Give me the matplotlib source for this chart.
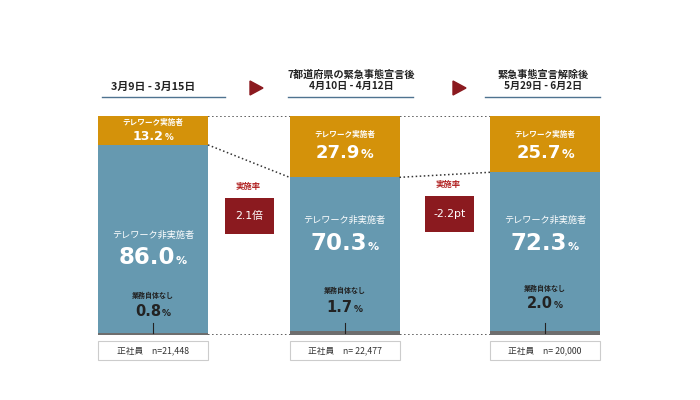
import matplotlib.pyplot as plt
from matplotlib.patches import Rectangle, Polygon
from matplotlib.offsetbox import TextArea, HPacker, AnnotationBbox

plt.rcParams['font.family'] = ['Noto Sans CJK JP', 'DejaVu Sans']
NUMFONT = ['DejaVu Sans', 'Noto Sans CJK JP']

# data
periods = ["3月9日 - 3月15日", "4月10日 - 4月12日", "5月29日 - 6月2日"]
headers = ["", "7都道府県の緊急事態宣言後", "緊急事態宣言解除後"]
telework = [13.2, 27.9, 25.7]
non_telework = [86.0, 70.3, 72.3]
no_work = [0.8, 1.7, 2.0]
sample_n = ["n=21,448", "n= 22,477", "n= 20,000"]
changes = ["2.1倍", "-2.2pt"]

ORANGE = '#D4920A'
BLUE = '#6699B0'
GREY = '#6E6E6E'
RED = '#8B1A1F'
DARK = '#222222'

fig = plt.figure(figsize=(7, 4), dpi=100)

# bar axes: 0% at y=335px, 100% at y=116px
bx = fig.add_axes([0, 65 / 400, 1, 219 / 400])
bx.set_xlim(0, 700)
bx.set_ylim(0, 100)
bx.axis('off')

# overlay axes in pixel units for text / decorations (drawn on top)
ax = fig.add_axes([0, 0, 1, 1])
ax.set_zorder(5)
ax.set_xlim(0, 700)
ax.set_ylim(400, 0)
ax.axis('off')

xs = [153, 344.5, 545]
w = 110
base2 = [a + b for a, b in zip(no_work, non_telework)]
bx.bar(xs, no_work, width=w, color=GREY)
bx.bar(xs, non_telework, bottom=no_work, width=w, color=BLUE)
bx.bar(xs, telework, bottom=base2, width=w, color=ORANGE)

# connector lines between bars
for i in range(2):
    x0 = xs[i] + w / 2
    x1 = xs[i + 1] - w / 2
    bx.plot([x0, x1], [100, 100], ls=':', color='#333333', lw=1.1)
    bx.plot([x0, x1], [base2[i], base2[i + 1]], ls=':', color='#333333', lw=1.1)
    bx.plot([x0, x1], [0, 0], ls=':', color='#333333', lw=1.1)


def pct(x, y, val, big, small, color):
    t1 = TextArea(f"{val:.1f}", textprops=dict(fontsize=big, fontweight='bold', color=color, family=NUMFONT))
    t2 = TextArea("%", textprops=dict(fontsize=small, fontweight='bold', color=color, family=NUMFONT))
    box = HPacker(children=[t1, t2], align='baseline', pad=0, sep=0.5)
    ab = AnnotationBbox(box, (x, y), xycoords='data', frameon=False, box_alignment=(0.5, 0.5), pad=0)
    ax.add_artist(ab)


tele_lab_y = [123, 135, 135]
tele_pct_y = [137, 153, 153]
tele_size = [9, 13, 13]
non_lab_y = [235, 220, 220]
non_pct_y = [257, 243, 243]
nw_lab_y = [295, 290, 288]
nw_pct_y = [312, 307, 304]

for i, x in enumerate(xs):
    ax.text(x, tele_lab_y[i], "テレワーク実施者", ha='center', va='center', fontsize=5.5,
            fontweight='bold', color='white')
    pct(x, tele_pct_y[i], telework[i], tele_size[i], tele_size[i] * 0.7, 'white')
    ax.text(x, non_lab_y[i], "テレワーク非実施者", ha='center', va='center', fontsize=6.6,
            color='white')
    pct(x, non_pct_y[i], non_telework[i], 16.5, 8, 'white')
    ax.text(x, nw_lab_y[i], "業務自体なし", ha='center', va='center', fontsize=5,
            fontweight='bold', color=DARK)
    pct(x, nw_pct_y[i], no_work[i], 10.5, 6.5, DARK)
    ax.plot([x, x], [323, 333], color=DARK, lw=0.8)

    # bottom sample box
    ax.add_patch(Rectangle((x - w / 2, 341), w, 19, facecolor='white', edgecolor='#CCCCCC', lw=0.8))
    ax.text(x, 350.5, "正社員　" + sample_n[i], ha='center', va='center', fontsize=6.3, color='#333333')

# headers
ax.text(153, 87, periods[0], ha='center', va='center', fontsize=7.8, fontweight='bold', color=DARK)
ax.plot([102, 225], [97, 97], color='#4F7390', lw=1)
for i, cx, x0, x1 in [(1, 351, 288, 413), (2, 543, 485, 600)]:
    ax.text(cx, 75, headers[i], ha='center', va='center', fontsize=7.3, fontweight='bold', color=DARK)
    ax.text(cx, 86, periods[i], ha='center', va='center', fontsize=7.3, fontweight='bold', color=DARK)
    ax.plot([x0, x1], [97, 97], color='#4F7390', lw=1)

# arrows
for tx in [250, 453]:
    ax.add_patch(Polygon([[tx, 81], [tx, 95], [tx + 13, 88]], closed=True, color=RED))

# change boxes
for (bxl, byt, ly), label in zip([(225, 198, 187), (425, 196, 184)], changes):
    ax.text(bxl + 23, ly, "実施率", ha='center', va='center', fontsize=6, fontweight='bold', color='#B02020')
    ax.add_patch(Rectangle((bxl, byt), 49, 36, facecolor=RED, edgecolor='none'))
    ax.text(bxl + 24.5, byt + 18, label, ha='center', va='center', fontsize=7.8, color='white',
            family=NUMFONT)

fig.savefig('out.png', dpi=100)
